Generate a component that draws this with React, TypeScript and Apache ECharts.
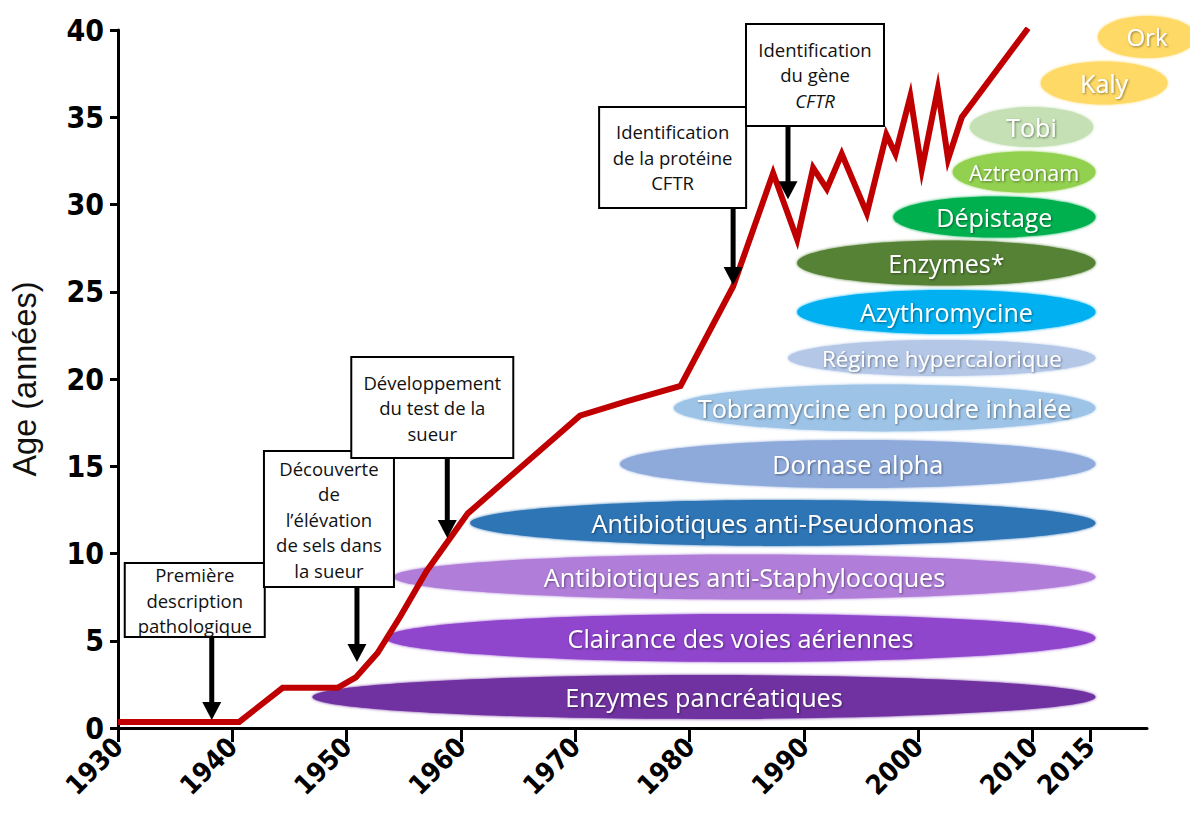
import React, { useEffect, useRef } from "react";
import * as echarts from "echarts";

// ---- Data ----
const yearTicks = [1930, 1940, 1950, 1960, 1970, 1980, 1990, 2000, 2010, 2015];

// Median survival age (red line)
const survivalYears = [
  1930, 1940.6, 1944.4, 1949.2, 1950.8, 1952.7, 1954.7, 1957.0, 1960.6, 1970.4,
  1974.4, 1979.2, 1983.8, 1987.3, 1989.4, 1990.8, 1992.0, 1993.3, 1995.5, 1997.2,
  1998.0, 1999.3, 2000.3, 2001.7, 2002.6, 2003.8, 2009.6,
];
const survivalAges = [
  0.35, 0.35, 2.3, 2.3, 2.9, 4.3, 6.4, 9.0, 12.3, 17.9,
  18.7, 19.6, 25.3, 31.8, 28.0, 32.1, 30.9, 32.9, 29.5, 34.0,
  32.9, 36.2, 32.0, 36.6, 32.6, 35.0, 40.1,
];

// Treatments (ellipses): start year, end year, age level
const treatmentNames = [
  "Enzymes pancréatiques",
  "Clairance des voies aériennes",
  "Antibiotiques anti-Staphylocoques",
  "Antibiotiques anti-Pseudomonas",
  "Dornase alpha",
  "Tobramycine en poudre inhalée",
  "Régime hypercalorique",
  "Azythromycine",
  "Enzymes*",
  "Dépistage",
  "Aztreonam",
  "Tobi",
  "Kaly",
  "Ork",
];
const treatmentStart = [1947.0, 1953.4, 1954.1, 1960.8, 1973.9, 1978.6, 1988.6, 1989.4, 1989.4, 1997.8, 2003.0, 2004.5, 2010.7, 2015.7];
const treatmentEnd = [2015.5, 2015.5, 2015.5, 2015.5, 2015.5, 2015.5, 2015.5, 2015.5, 2015.5, 2015.5, 2015.5, 2015.3, 2021.8, 2024.3];
const treatmentLevel = [1.78, 5.16, 8.65, 11.75, 15.13, 18.34, 21.2, 23.84, 26.65, 29.28, 31.86, 34.44, 36.96, 39.6];

// Milestones (annotation boxes with arrows)
const milestoneLines = [
  ["Première", "description", "pathologique"],
  ["Découverte", "de", "l’élévation", "de sels dans", "la sueur"],
  ["Développement", "du test de la", "sueur"],
  ["Identification", "de la protéine", "CFTR"],
  ["Identification", "du gène", "CFTR"],
];
const milestoneYear = [1938.2, 1950.9, 1958.8, 1983.8, 1988.6];
const milestoneTip = [0.46, 3.78, 10.89, 25.39, 30.3];
const milestoneBoxBottom = [5.21, 8.08, 15.47, 29.8, 34.5];

// ---- Styles ----
const treatmentColors = [
  "#7030a0", "#8f45cc", "#b07ed9", "#2e75b6", "#8eaadb", "#9dc3e6", "#b4c7e7",
  "#00b0f0", "#548235", "#00b050", "#92d050", "#c5e0b4", "#ffd966", "#ffd966",
];
const treatmentHeights = [44, 48, 45, 46, 48, 47, 36, 44, 45, 41, 41, 40, 43, 42];
const treatmentFont = [25.2, 25.2, 25.2, 25.2, 25.2, 25.2, 22.3, 25, 25, 25, 21.5, 25, 25, 24];
// [width, height, offset from box left to arrow]
const milestoneBox = [
  [140, 74, 87],
  [130, 136, 93],
  [162, 101, 96],
  [147, 101, 134],
  [138, 102, 42],
];
const milestoneItalicLine = [-1, -1, -1, -1, 2];

const TEXT_FONT = '"Open Sans", "Noto Sans", sans-serif';
const AXIS_FONT = '"Liberation Sans Narrow", "DejaVu Sans Condensed", "Liberation Sans", Arial, sans-serif';

export default function App() {
  const ref = useRef<HTMLDivElement>(null);

  useEffect(() => {
    document.body.style.margin = "0";
    const chart = echarts.init(ref.current!, null, { renderer: "svg" });

    const treatmentData = treatmentNames.map((_, i) => [treatmentStart[i], treatmentEnd[i], treatmentLevel[i], i]);
    const milestoneData = milestoneLines.map((_, i) => [milestoneYear[i], milestoneTip[i], milestoneBoxBottom[i], i]);

    const option: any = {
      animation: false,
      backgroundColor: "#ffffff",
      grid: { left: 118, right: 43, top: 30, bottom: 88, containLabel: false, outerBoundsMode: "none" },
      xAxis: {
        type: "value",
        min: 1930,
        max: 2020,
        interval: 10,
        axisLine: { show: true, lineStyle: { color: "#000", width: 3 } },
        axisTick: { show: true, length: 14, lineStyle: { color: "#000", width: 3 }, customValues: yearTicks },
        axisLabel: {
          customValues: yearTicks,
          formatter: (v: number) => String(Math.round(v)),
          rotate: 45,
          margin: 14,
          color: "#000",
          fontSize: 27,
          fontWeight: "bold",
          fontFamily: AXIS_FONT,
        },
        splitLine: { show: false },
      },
      yAxis: {
        type: "value",
        min: 0,
        max: 40,
        interval: 5,
        name: "Age (années)",
        nameLocation: "middle",
        nameRotate: 90,
        nameGap: 77,
        nameTextStyle: { fontSize: 32.5, fontFamily: '"Liberation Sans", Arial, sans-serif', color: "#111" },
        axisLine: { show: true, lineStyle: { color: "#000", width: 3 } },
        axisTick: { show: true, length: 8, lineStyle: { color: "#000", width: 3 } },
        axisLabel: {
          margin: 14,
          color: "#000",
          fontSize: 30,
          fontWeight: "bold",
          fontFamily: AXIS_FONT,
        },
        splitLine: { show: false },
      },
      series: [
        {
          type: "custom",
          name: "Traitements",
          z: 1,
          clip: false,
          encode: { x: [0, 1], y: 2 },
          data: treatmentData,
          renderItem: (_params: any, api: any) => {
            const i = api.value(3) as number;
            const p1 = api.coord([api.value(0), api.value(2)]);
            const p2 = api.coord([api.value(1), api.value(2)]);
            const cx = (p1[0] + p2[0]) / 2;
            const cy = p1[1];
            return {
              type: "group",
              children: [
                {
                  type: "ellipse",
                  shape: { cx, cy, rx: (p2[0] - p1[0]) / 2, ry: treatmentHeights[i] / 2 },
                  style: { fill: treatmentColors[i], shadowBlur: 3, shadowColor: treatmentColors[i] },
                },
                {
                  type: "text",
                  style: {
                    text: treatmentNames[i],
                    x: cx,
                    y: cy,
                    align: "center",
                    verticalAlign: "middle",
                    fill: "#ffffff",
                    fontSize: treatmentFont[i],
                    fontFamily: TEXT_FONT,
                    textShadowColor: "rgba(0,0,0,0.45)",
                    textShadowBlur: 2,
                    textShadowOffsetX: 1,
                    textShadowOffsetY: 1,
                  },
                },
              ],
            };
          },
        },
        {
          type: "line",
          name: "Âge médian de survie",
          z: 3,
          showSymbol: false,
          symbol: "none",
          data: survivalYears.map((y, i) => [y, survivalAges[i]]),
          lineStyle: { color: "#c00000", width: 6, join: "miter", miterLimit: 6 },
        },
        {
          type: "custom",
          name: "Jalons",
          z: 5,
          clip: false,
          encode: { x: 0, y: [1, 2] },
          data: milestoneData,
          renderItem: (_params: any, api: any) => {
            const i = api.value(3) as number;
            const tip = api.coord([api.value(0), api.value(1)]);
            const base = api.coord([api.value(0), api.value(2)]);
            const [w, h, off] = milestoneBox[i];
            const bx = tip[0] - off;
            const by = base[1] - h;
            const headH = 18;
            const headW = 19;
            const lines = milestoneLines[i];
            const text = lines
              .map((l, k) => (k === milestoneItalicLine[i] ? `{it|${l}}` : `{n|${l}}`))
              .join("\n");
            const baseStyle = { fontSize: 18.5, fontFamily: TEXT_FONT, lineHeight: 25.5, fill: "#111" };
            return {
              type: "group",
              children: [
                {
                  type: "line",
                  shape: { x1: tip[0], y1: base[1], x2: tip[0], y2: tip[1] - headH + 2 },
                  style: { stroke: "#000", lineWidth: 5 },
                },
                {
                  type: "polygon",
                  shape: {
                    points: [
                      [tip[0] - headW / 2, tip[1] - headH],
                      [tip[0] + headW / 2, tip[1] - headH],
                      [tip[0], tip[1]],
                    ],
                  },
                  style: { fill: "#000" },
                },
                {
                  type: "rect",
                  shape: { x: bx, y: by, width: w, height: h },
                  style: { fill: "#fff", stroke: "#000", lineWidth: 2 },
                },
                {
                  type: "text",
                  style: {
                    text,
                    x: bx + w / 2,
                    y: by + h / 2,
                    align: "center",
                    verticalAlign: "middle",
                    rich: {
                      n: { ...baseStyle },
                      it: { ...baseStyle, fontStyle: "italic" },
                    },
                  },
                },
              ],
            };
          },
        },
      ],
    };

    chart.setOption(option);
    return () => chart.dispose();
  }, []);

  return (
    <div
      ref={ref}
      style={{ position: "absolute", left: 0, top: 0, width: 1190, height: 816, background: "#fff" }}
    />
  );
}
